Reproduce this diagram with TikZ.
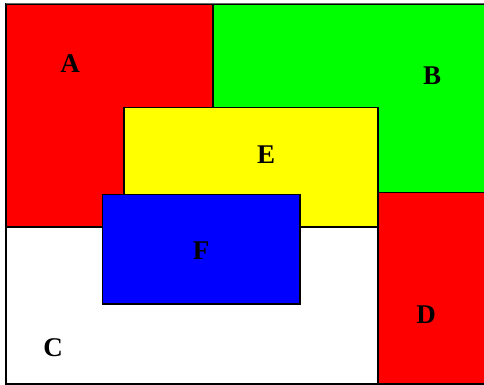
\documentclass[tikz,border=0pt]{standalone}
\usepackage{fontspec}
\setmainfont{Liberation Serif}
\definecolor{cred}{RGB}{255,0,0}
\definecolor{cgreen}{RGB}{0,255,0}
\definecolor{cyellow}{RGB}{255,255,0}
\definecolor{cblue}{RGB}{0,0,255}
\tikzset{
  region/.style={draw=black, line width=1.2pt},
  lbl/.style={font=\fontsize{27}{30}\selectfont\bfseries, text=black, inner sep=0pt}
}
\begin{document}
\begin{tikzpicture}[x=1pt,y=-1pt]
\useasboundingbox (0,0) rectangle (484,385);
\fill[white] (0,0) rectangle (484,385);
\begin{scope}
\clip (0,0) rectangle (484,385);
\draw[region, fill=cred] (6,4) rectangle (213,227);
\draw[region, fill=cgreen] (213,4) rectangle (492,192.5);
\draw[region, fill=white] (6,227) rectangle (378,384);
\draw[region, fill=cred] (378,192.5) rectangle (492,384);
\draw[region, fill=cyellow] (124,107.5) rectangle (378,227);
\draw[region, fill=cblue] (102.5,194.5) rectangle (300,304);
\draw[draw=black!60, line width=0.8pt] (6,3) -- (484,3);
\end{scope}
\node[lbl] (la) at (70,64) {A};
\node[lbl] (lb) at (432,76) {B};
\node[lbl] (le) at (266,155) {E};
\node[lbl] (lf) at (201,251) {F};
\node[lbl] (lc) at (53,348) {C};
\node[lbl] (ld) at (426,315) {D};
\end{tikzpicture}
\end{document}
